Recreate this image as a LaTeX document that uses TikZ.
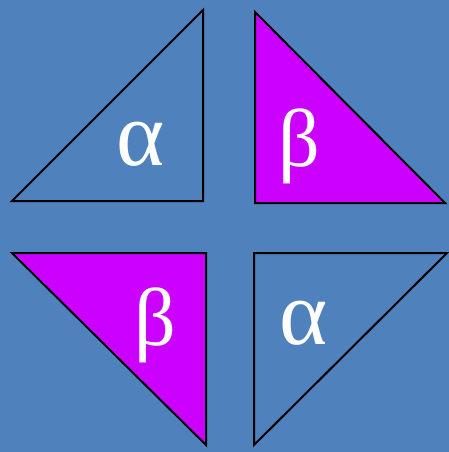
\documentclass[tikz,border=0pt]{standalone}
\usepackage{fontspec}
\setmainfont{Liberation Serif}
\definecolor{bg}{HTML}{4F81BD}
\definecolor{mag}{HTML}{CC00FF}
\tikzset{
  tri/.style={draw=black, line width=2pt, line join=miter},
  albl/.style={text=white, inner sep=0pt, font=\fontsize{92}{92}\selectfont},
  blbl/.style={text=white, inner sep=0pt, font=\fontsize{82}{82}\selectfont}
}
\begin{document}
\begin{tikzpicture}[x=1pt,y=-1pt]
\fill[bg] (0,0) rectangle (449,452);
\useasboundingbox (0,0) rectangle (449,452);
% top-left
\draw[tri, fill=bg] (12,201) -- (203,10) -- (203,201) -- cycle;
% top-right
\draw[tri, fill=mag] (255,12) -- (255,203) -- (445,203) -- cycle;
% bottom-left
\draw[tri, fill=mag] (12,253) -- (206,253) -- (206,445) -- cycle;
% bottom-right
\draw[tri, fill=bg] (254,253) -- (447,253) -- (254,445) -- cycle;
\node[albl] (a1) at (141,144) {α};
\node[blbl] (b1) at (299,146) {β};
\node[blbl] (b2) at (155,325) {β};
\node[albl] (a2) at (304,323) {α};
\end{tikzpicture}
\end{document}
